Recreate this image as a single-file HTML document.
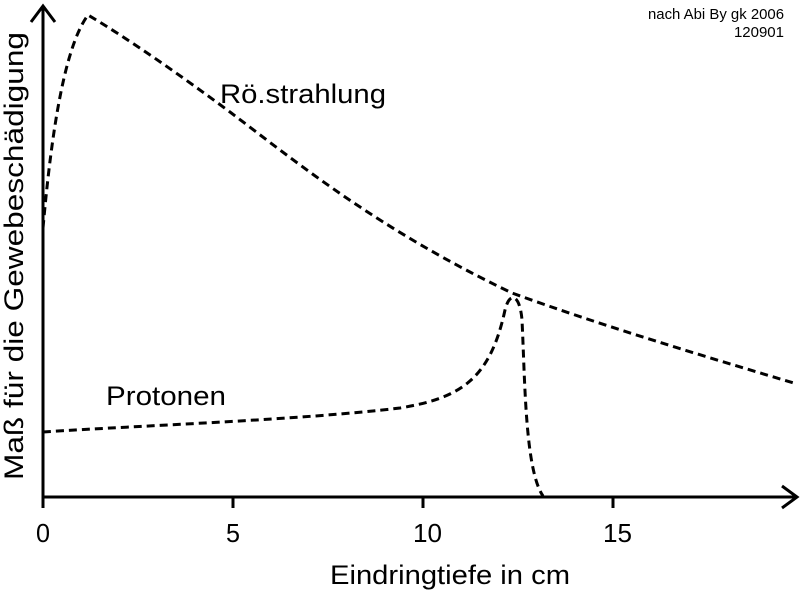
<!DOCTYPE html>
<html><head><meta charset="utf-8"><style>
html,body{margin:0;padding:0;background:#fff;}
svg{display:block;}
text{font-family:"Liberation Sans",sans-serif;fill:#000;}
</style></head><body>
<svg width="800" height="590" viewBox="0 0 800 590">
<g stroke="#000" stroke-width="3" fill="none">
<line x1="43" y1="497" x2="43" y2="6"/>
<polyline points="31,22 43,6 55,22"/>
<line x1="43" y1="497" x2="796" y2="497"/>
<polyline points="782,486 797,497 782,508"/>
<line x1="43" y1="497" x2="43" y2="508"/>
<line x1="233" y1="497" x2="233" y2="508"/>
<line x1="423" y1="497" x2="423" y2="508"/>
<line x1="613" y1="497" x2="613" y2="508"/>
</g>
<g stroke="#000" stroke-width="3" fill="none" stroke-dasharray="8,5">
<path d="M43,228 C50,150 62,50 88,15 C130,40 180,75 230,112 C300,165 380,230 512,293 C600,325 700,355 797,384"/>
<path d="M43,432 C150,425 300,420 400,408 C460,398 490,380 505,310 C510,290 520,295 522,320 C525,380 525,470 543,496"/>
</g>
<text x="43" y="542" font-size="26" text-anchor="middle" textLength="14" lengthAdjust="spacingAndGlyphs">0</text>
<text x="233" y="542" font-size="26" text-anchor="middle" textLength="14" lengthAdjust="spacingAndGlyphs">5</text>
<text x="413" y="542" font-size="26" textLength="29" lengthAdjust="spacingAndGlyphs">10</text>
<text x="603" y="542" font-size="26" textLength="29" lengthAdjust="spacingAndGlyphs">15</text>
<text x="330" y="584" font-size="27" textLength="240" lengthAdjust="spacingAndGlyphs">Eindringtiefe in cm</text>
<text transform="translate(23,480) rotate(-90)" font-size="27" textLength="448" lengthAdjust="spacingAndGlyphs">Maß für die Gewebeschädigung</text>
<text x="220" y="103" font-size="27" textLength="166" lengthAdjust="spacingAndGlyphs">Rö.strahlung</text>
<text x="106" y="405" font-size="27" textLength="120" lengthAdjust="spacingAndGlyphs">Protonen</text>
<text x="648" y="19" font-size="15" textLength="136" lengthAdjust="spacingAndGlyphs">nach Abi By gk 2006</text>
<text x="784" y="37" font-size="15" text-anchor="end">120901</text>
</svg>
</body></html>
